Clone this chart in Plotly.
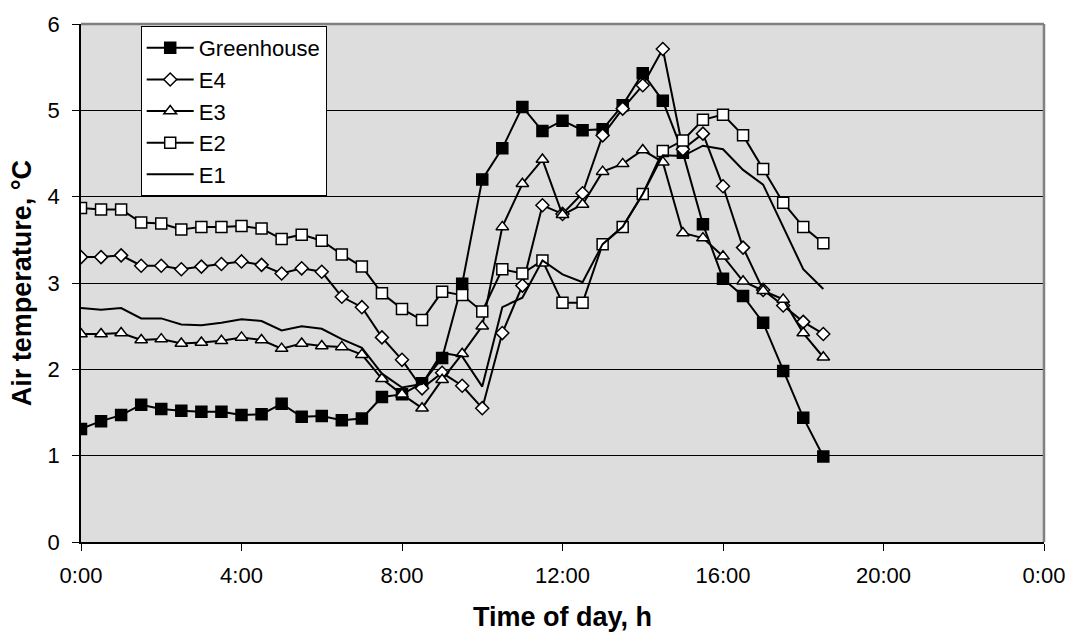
import plotly.graph_objects as go

times = ["0:00","0:30","1:00","1:30","2:00","2:30","3:00","3:30","4:00","4:30",
         "5:00","5:30","6:00","6:30","7:00","7:30","8:00","8:30","9:00","9:30",
         "10:00","10:30","11:00","11:30","12:00","12:30","13:00","13:30","14:00","14:30",
         "15:00","15:30","16:00","16:30","17:00","17:30","18:00","18:30"]

greenhouse = [1.31,1.40,1.47,1.59,1.54,1.52,1.51,1.51,1.47,1.48,
              1.60,1.45,1.46,1.41,1.43,1.68,1.71,1.84,2.13,2.99,
              4.20,4.56,5.04,4.76,4.88,4.77,4.78,5.06,5.43,5.11,
              4.51,3.68,3.05,2.85,2.54,1.98,1.44,0.99]
e4 = [3.30,3.30,3.32,3.20,3.20,3.16,3.19,3.22,3.25,3.21,
      3.11,3.17,3.13,2.84,2.72,2.37,2.11,1.78,1.96,1.81,
      1.55,2.42,2.97,3.90,3.80,4.04,4.71,5.02,5.29,5.71,
      4.55,4.73,4.12,3.41,2.92,2.74,2.55,2.41]
e3 = [2.41,2.41,2.42,2.34,2.35,2.30,2.31,2.33,2.37,2.34,
      2.24,2.30,2.27,2.26,2.17,1.89,1.71,1.55,1.88,2.18,
      2.50,3.65,4.15,4.43,3.79,3.91,4.29,4.38,4.54,4.40,
      3.58,3.52,3.31,3.02,2.91,2.81,2.42,2.14]
e2 = [3.87,3.85,3.85,3.70,3.69,3.62,3.65,3.65,3.66,3.63,
      3.51,3.56,3.49,3.33,3.19,2.88,2.70,2.57,2.90,2.86,
      2.67,3.16,3.11,3.26,2.77,2.77,3.45,3.65,4.03,4.53,
      4.65,4.89,4.95,4.71,4.32,3.93,3.65,3.46]
e1 = [2.71,2.69,2.71,2.59,2.59,2.52,2.51,2.54,2.58,2.56,
      2.45,2.50,2.47,2.35,2.25,1.95,1.79,1.83,2.19,2.15,
      1.80,2.72,2.83,3.26,3.10,3.01,3.45,3.65,4.03,4.48,
      4.47,4.59,4.55,4.31,4.14,3.64,3.16,2.93]

tick_hours = [0, 4, 8, 12, 16, 20, 24]
tick_labels = ["0:00", "4:00", "8:00", "12:00", "16:00", "20:00", "0:00"]
x_title = "Time of day, h"
y_title = "Air temperature, °C"


def to_hours(t):
    h, m = t.split(":")
    return int(h) + int(m) / 60.0


x = [to_hours(t) for t in times]

FONT = "Liberation Sans, Arial, sans-serif"
fig = go.Figure()

series = [
    ("Greenhouse", greenhouse, dict(symbol="square", size=11, color="black",
                                    line=dict(color="black", width=1.5))),
    ("E4", e4, dict(symbol="diamond", size=10, color="white",
                    line=dict(color="black", width=1.5))),
    ("E3", e3, dict(symbol="triangle-up", size=11, color="white",
                    line=dict(color="black", width=1.5))),
    ("E2", e2, dict(symbol="square", size=11, color="white",
                    line=dict(color="black", width=1.5))),
]
for name, vals, mk in series:
    fig.add_trace(go.Scatter(x=x, y=vals, name=name, mode="lines+markers",
                             line=dict(color="black", width=2), marker=mk))
fig.add_trace(go.Scatter(x=x, y=e1, name="E1", mode="lines",
                         line=dict(color="black", width=2)))

fig.update_layout(
    width=1077, height=635,
    margin=dict(l=81, r=28, t=17, b=93),
    paper_bgcolor="white",
    plot_bgcolor="#DDDDDD",
    font=dict(family=FONT, color="black", size=22),
    showlegend=True,
    legend=dict(x=0.062, y=0.996, xanchor="left", yanchor="top",
                bgcolor="white", bordercolor="black", borderwidth=1,
                font=dict(size=22, family=FONT), itemwidth=47,
                tracegroupgap=0),
    xaxis=dict(range=[0, 24], tickvals=tick_hours, ticktext=tick_labels,
               showgrid=False, zeroline=False, showline=True, linecolor="black",
               linewidth=1.5, ticks="outside", ticklen=7, tickcolor="black",
               tickfont=dict(size=22, family=FONT), ticklabelstandoff=6),
    yaxis=dict(range=[0, 6], dtick=1, showgrid=True, gridcolor="black",
               gridwidth=1, zeroline=False, showline=True, linecolor="black",
               linewidth=1.5, ticks="outside", ticklen=7, tickcolor="black",
               tickfont=dict(size=22, family=FONT), ticklabelstandoff=8),
    shapes=[
        dict(type="line", xref="paper", yref="paper", x0=0, x1=1, y0=1, y1=1,
             line=dict(color="#808080", width=2.5), layer="above"),
        dict(type="line", xref="paper", yref="paper", x0=1, x1=1, y0=0, y1=1,
             line=dict(color="#808080", width=2.5), layer="above"),
    ],
    annotations=[
        dict(text="<b>" + x_title + "</b>", xref="paper", yref="paper",
             x=0.5, y=-0.1447, xanchor="center", yanchor="middle",
             showarrow=False, font=dict(size=27, family=FONT)),
        dict(text="<b>" + y_title + "</b>", xref="paper", yref="paper",
             x=-0.061, y=0.5, xanchor="center", yanchor="middle", textangle=-90,
             showarrow=False, font=dict(size=27, family=FONT)),
    ],
)

fig.write_html("out.html")
